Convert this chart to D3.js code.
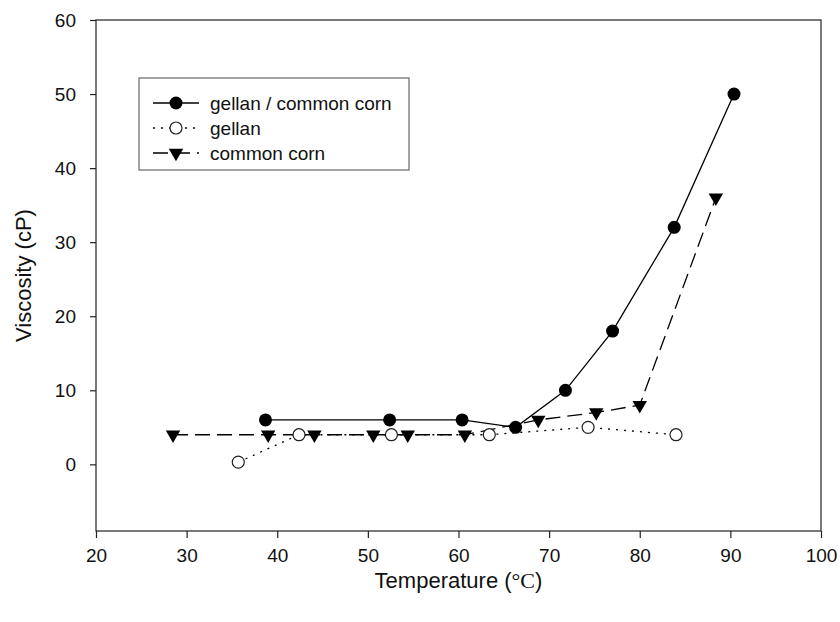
<!DOCTYPE html>
<html>
<head>
<meta charset="utf-8">
<script src="https://cdn.jsdelivr.net/npm/d3@7"></script>
<style>
  body { margin: 0; background: #fff; }
  text { font-family: "Liberation Sans", Arial, sans-serif; fill: #111; }
</style>
</head>
<body>
<script>
// data
const gellanCornT = [38.7, 52.4, 60.4, 66.3, 71.8, 77.0, 83.8, 90.4];
const gellanCornV = [6, 6, 6, 5, 10, 18, 32, 50];
const gellanT = [35.7, 42.4, 52.6, 63.4, 74.3, 84.0];
const gellanV = [0.3, 4, 4, 4, 5, 4];
const cornT = [28.5, 39.0, 44.1, 50.6, 54.4, 60.7, 68.8, 75.2, 80.0, 88.4];
const cornV = [4, 4, 4, 4, 4, 4, 6, 7, 8, 36];
const xTicks = [20, 30, 40, 50, 60, 70, 80, 90, 100];
const yTicks = [0, 10, 20, 30, 40, 50, 60];

const width = 840, height = 622;
const margin = { left: 96, right: 19, top: 20, bottom: 91 };

const svg = d3.select('body').append('svg')
  .attr('width', width)
  .attr('height', height);

const x = d3.scaleLinear().domain([20, 100]).range([margin.left, width - margin.right]);
const y = d3.scaleLinear().domain([-9, 60]).range([height - margin.bottom, margin.top]);

// frame
svg.append('rect')
  .attr('x', x(20)).attr('y', y(60))
  .attr('width', x(100) - x(20)).attr('height', y(-9) - y(60))
  .attr('fill', 'none').attr('stroke', '#222').attr('stroke-width', 1.2);

const xAxis = svg.append('g')
  .attr('transform', `translate(0,${y(-9)})`)
  .call(d3.axisBottom(x).tickValues(xTicks).tickSize(7).tickPadding(11).tickFormat(d3.format('d')));
const yAxis = svg.append('g')
  .attr('transform', `translate(${x(20)},0)`)
  .call(d3.axisLeft(y).tickValues(yTicks).tickSize(6).tickPadding(14).tickFormat(d3.format('d')));
[xAxis, yAxis].forEach(a => {
  a.select('.domain').remove();
  a.selectAll('line').attr('stroke', '#222').attr('stroke-width', 1.2);
  a.selectAll('text').style('font-size', '19px').style('font-family', '"Liberation Sans", Arial, sans-serif').attr('fill', '#111');
});

// axis titles
const xt = svg.append('text')
  .attr('x', (x(20) + x(100)) / 2).attr('y', 588)
  .attr('text-anchor', 'middle').style('font-size', '22px');
xt.append('tspan').text('Temperature (');
xt.append('tspan').style('font-family', '"Liberation Serif", serif').text('°C');
xt.append('tspan').text(')');

svg.append('text')
  .attr('transform', `translate(31,${(y(60) + y(-9)) / 2}) rotate(-90)`)
  .attr('text-anchor', 'middle').style('font-size', '22px')
  .text('Viscosity (cP)');

const series = [
  { name: 'gellan / common corn', t: gellanCornT, v: gellanCornV, dash: null, marker: 'filled' },
  { name: 'gellan', t: gellanT, v: gellanV, dash: '2,6', marker: 'open' },
  { name: 'common corn', t: cornT, v: cornV, dash: '15,7', marker: 'tri' }
];

const line = d3.line().x(d => x(d[0])).y(d => y(d[1]));
const tri = d3.symbol().type(d3.symbolTriangle).size(90);

function drawMarker(g, kind) {
  if (kind === 'filled') {
    g.append('circle').attr('r', 6.5).attr('fill', '#000');
  } else if (kind === 'open') {
    g.append('circle').attr('r', 6).attr('fill', '#fff').attr('stroke', '#222').attr('stroke-width', 1.2);
  } else {
    g.append('path').attr('d', tri).attr('transform', 'rotate(180)').attr('fill', '#000');
  }
}

// draw in back-to-front order: corn, gellan, gellan/corn
[series[2], series[1], series[0]].forEach(s => {
  const pts = s.t.map((t, i) => [t, s.v[i]]);
  svg.append('path')
    .datum(pts)
    .attr('d', line)
    .attr('fill', 'none')
    .attr('stroke', '#000')
    .attr('stroke-width', 1.3)
    .attr('stroke-dasharray', s.dash);
  svg.append('g').selectAll('g')
    .data(pts)
    .enter().append('g')
    .attr('transform', d => `translate(${x(d[0])},${y(d[1])})`)
    .each(function () { drawMarker(d3.select(this), s.marker); });
});

// legend
const legend = svg.append('g').attr('transform', 'translate(139,78)');
legend.append('rect')
  .attr('width', 270).attr('height', 92)
  .attr('fill', '#fff').attr('stroke', '#666').attr('stroke-width', 1.2);
series.forEach((s, i) => {
  const row = legend.append('g').attr('transform', `translate(0,${25 + i * 25})`);
  row.append('line')
    .attr('x1', 14).attr('x2', 60)
    .attr('stroke', '#000').attr('stroke-width', 1.3)
    .attr('stroke-dasharray', s.dash);
  const m = row.append('g').attr('transform', 'translate(37,0)');
  drawMarker(m, s.marker);
  row.append('text')
    .attr('x', 71).attr('dy', '0.35em')
    .style('font-size', '19px')
    .text(s.name);
});
</script>
</body>
</html>
